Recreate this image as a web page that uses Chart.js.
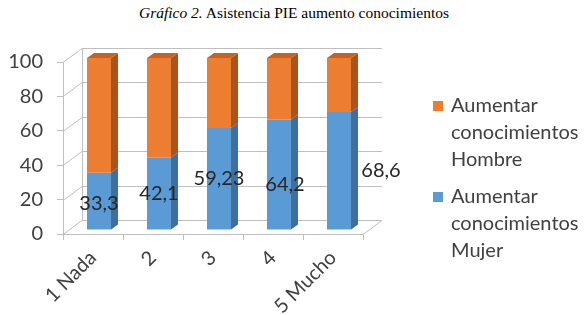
<!DOCTYPE html>
<html>
<head>
<meta charset="utf-8">
<script src="https://cdn.jsdelivr.net/npm/chart.js@4/dist/chart.umd.min.js"></script>
<style>
  html, body { margin: 0; padding: 0; background: #fff; }
  #wrap { position: relative; width: 588px; height: 315px; }
  #title {
    position: absolute; top: 4px; left: 0; width: 588px; text-align: center;
    font-family: "Liberation Serif", "Times New Roman", serif; font-size: 15.5px; color: #000;
  }
  canvas { position: absolute; left: 0; top: 0; }
</style>
</head>
<body>
<div id="wrap">
  <div id="title"><i>Gráfico 2.</i> Asistencia PIE aumento conocimientos</div>
  <canvas id="chart" width="588" height="315"></canvas>
</div>
<script>
// Datos
const CATEGORIES = ["1 Nada", "2", "3", "4", "5 Mucho"];
const MUJER = [33.3, 42.1, 59.23, 64.2, 68.6];
const HOMBRE = [66.7, 57.9, 40.77, 35.8, 31.4];
const MUJER_LABELS = ["33,3", "42,1", "59,23", "64,2", "68,6"];
const Y_TICKS = [0, 20, 40, 60, 80, 100];
const SERIES = ["Aumentar conocimientos Mujer", "Aumentar conocimientos Hombre"];

const FONT = "Lato, 'Open Sans', sans-serif";
const GRID = "#bfbfbf";
const TEXT = "#404040";

// profundidad 3D
const WALL = { dx: 19, dy: -14 };
const SHIFT = { dx: 6, dy: -4 };
const DEPTH = { dx: 7, dy: -5 };
const FACES = [
  { front: "#5b9bd5", side: "#3f6f9a", top: "#7aaee0" },
  { front: "#ed7d31", side: "#a9541d", top: "#c7631f" },
];
const TOP_DATASET = 1;

// empujes de las etiquetas de datos (posición, no datos)
const LABEL_NUDGE = [[0, 2], [0, 0], [0, 0], [6, 10], [42, 0]];

const walls = {
  id: "walls",
  beforeDatasetsDraw(chart) {
    const { ctx, chartArea: a, scales: { y } } = chart;
    ctx.save();
    ctx.strokeStyle = GRID;
    ctx.lineWidth = 1;
    ctx.beginPath();
    for (const t of Y_TICKS) {
      const py = Math.round(y.getPixelForValue(t)) + 0.5;
      ctx.moveTo(a.left, py);
      ctx.lineTo(a.left + WALL.dx, py + WALL.dy);
      ctx.lineTo(a.right + WALL.dx, py + WALL.dy);
    }
    const top = Math.round(y.getPixelForValue(100)) + 0.5;
    const bot = Math.round(y.getPixelForValue(0)) + 0.5;
    ctx.moveTo(a.left + WALL.dx + 0.5, top + WALL.dy);
    ctx.lineTo(a.left + WALL.dx + 0.5, bot + WALL.dy);
    ctx.moveTo(a.right, bot);
    ctx.lineTo(a.right + WALL.dx, bot + WALL.dy);
    ctx.stroke();
    ctx.restore();
  },
  beforeDatasetDraw(chart) {
    chart.ctx.save();
    chart.ctx.translate(SHIFT.dx, SHIFT.dy);
  },
  afterDatasetDraw(chart, args) {
    const ctx = chart.ctx;
    const f = FACES[args.index];
    for (const el of args.meta.data) {
      const L = el.x - el.width / 2, R = el.x + el.width / 2, T = el.y, B = el.base;
      ctx.fillStyle = f.side;
      ctx.beginPath();
      ctx.moveTo(R, T); ctx.lineTo(R + DEPTH.dx, T + DEPTH.dy);
      ctx.lineTo(R + DEPTH.dx, B + DEPTH.dy); ctx.lineTo(R, B);
      ctx.closePath(); ctx.fill();
      if (args.index !== TOP_DATASET) continue;
      ctx.fillStyle = f.top;
      ctx.beginPath();
      ctx.moveTo(L, T); ctx.lineTo(L + DEPTH.dx, T + DEPTH.dy);
      ctx.lineTo(R + DEPTH.dx, T + DEPTH.dy); ctx.lineTo(R, T);
      ctx.closePath(); ctx.fill();
    }
    ctx.restore();
  },
  afterDatasetsDraw(chart) {
    const ctx = chart.ctx;
    const meta = chart.getDatasetMeta(0);
    ctx.save();
    ctx.font = `20px ${FONT}`;
    ctx.fillStyle = "#262626";
    ctx.textAlign = "center";
    ctx.textBaseline = "middle";
    meta.data.forEach((el, i) => {
      const [nx, ny] = LABEL_NUDGE[i];
      ctx.fillText(MUJER_LABELS[i], el.x + SHIFT.dx + nx, (el.y + el.base) / 2 + SHIFT.dy + ny);
    });
    ctx.restore();
  },
  afterDraw(chart) {
    const ctx = chart.ctx;
    ctx.save();
    ctx.font = `20px ${FONT}`;
    ctx.textBaseline = "middle";
    const blocks = [
      { ds: 1, y: 106 },
      { ds: 0, y: 197 },
    ];
    for (const b of blocks) {
      const ds = chart.data.datasets[b.ds];
      ctx.fillStyle = ds.backgroundColor;
      ctx.fillRect(433, b.y - 5, 10, 10);
      ctx.fillStyle = TEXT;
      ds.label.split(" ").forEach((w, k) => ctx.fillText(w, 451, b.y + k * 27));
    }
    ctx.restore();
  },
};

new Chart(document.getElementById("chart"), {
  type: "bar",
  data: {
    labels: CATEGORIES,
    datasets: [
      { label: SERIES[0], data: MUJER, backgroundColor: FACES[0].front, clip: false },
      { label: SERIES[1], data: HOMBRE, backgroundColor: FACES[1].front, clip: false },
    ],
  },
  options: {
    responsive: false,
    animation: false,
    events: [],
    barPercentage: 0.4,
    categoryPercentage: 1,
    layout: { padding: { top: 62, right: 225, left: 0, bottom: 0 } },
    plugins: { legend: { display: false }, tooltip: { enabled: false }, title: { display: false } },
    scales: {
      x: {
        stacked: true,
        afterFit: s => { s.height = 81; },
        grid: { display: true, drawOnChartArea: false, drawTicks: true, tickLength: 6, color: GRID, offset: true },
        border: { display: true, color: GRID },
        ticks: { minRotation: 45, maxRotation: 45, padding: 6, color: TEXT, font: { family: FONT, size: 20 } },
      },
      y: {
        stacked: true,
        min: 0, max: 100,
        afterFit: s => { s.width = 63; },
        afterBuildTicks: s => { s.ticks = Y_TICKS.map(v => ({ value: v })); },
        grid: { display: true, drawOnChartArea: false, drawTicks: true, tickLength: 6, color: GRID },
        border: { display: true, color: GRID },
        ticks: { padding: 14, color: TEXT, font: { family: FONT, size: 20 } },
      },
    },
  },
  plugins: [walls],
});
</script>
</body>
</html>
